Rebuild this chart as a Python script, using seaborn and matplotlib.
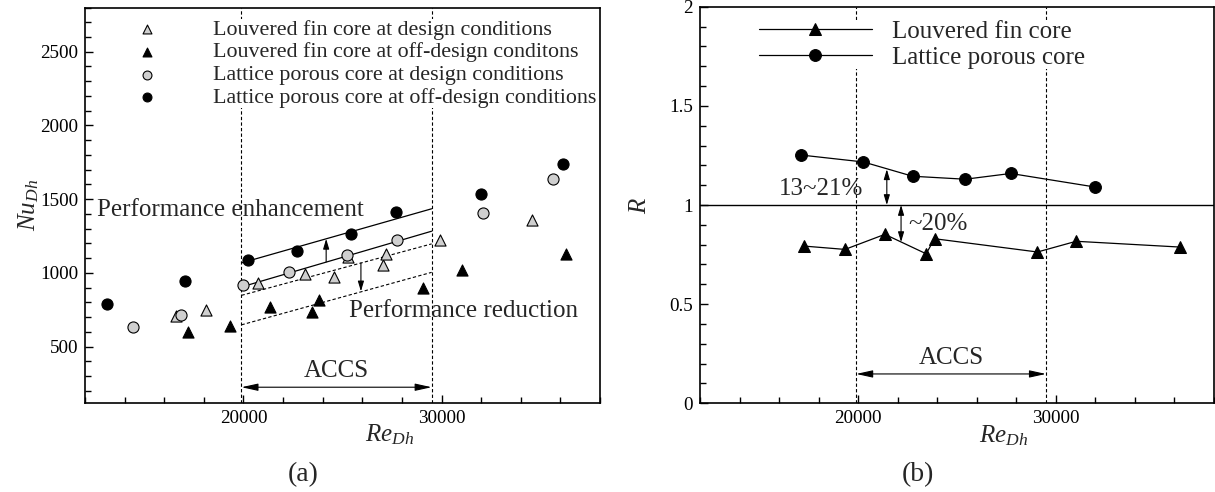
import numpy as np
import pandas as pd
import matplotlib
matplotlib.use('Agg')
import matplotlib.pyplot as plt
import seaborn as sns
from matplotlib.ticker import MultipleLocator, FuncFormatter

# ---- (a) Nu_Dh vs Re_Dh ----
re_lv_design = [16590, 18130, 20730, 23100, 24590, 25300, 27040, 27220, 29920, 34570]
nu_lv_design = [710, 750, 929, 995, 970, 1109, 1052, 1129, 1222, 1358]
re_lv_off = [17220, 19330, 21340, 23440, 23830, 29070, 31020, 36270]
nu_lv_off = [599, 642, 769, 735, 818, 898, 1018, 1129]
re_lp_design = [14440, 16840, 19960, 22290, 25250, 27760, 32110, 35650]
nu_lp_design = [633, 716, 916, 1007, 1124, 1220, 1408, 1634]
re_lp_off = [13120, 17060, 20230, 22700, 25430, 27700, 31970, 36150]
nu_lp_off = [792, 948, 1085, 1149, 1262, 1414, 1536, 1742]

labels_a = ['Louvered fin core at design conditions',
            'Louvered fin core at off-design conditons',
            'Lattice porous core at design conditions',
            'Lattice porous core at off-design conditions']

# ACCS range and trend lines
accs = [19900, 29500]
enh_hi = [1068, 1435]
enh_lo = [905, 1283]
red_hi = [848, 1197]
red_lo = [648, 1004]

# ---- (b) R vs Re_Dh ----
re_r_lv = [17245, 19333, 21351, 23441, 23862, 29070, 31027, 36258]
r_lv = [0.793, 0.776, 0.852, 0.754, 0.830, 0.763, 0.817, 0.788]
re_r_lp = [17108, 20268, 22755, 25419, 27718, 31962]
r_lp = [1.252, 1.217, 1.145, 1.130, 1.159, 1.091]
labels_b = ['Louvered fin core', 'Lattice porous core']

sns.set_theme(style='ticks')
plt.rcParams['font.family'] = ['Liberation Serif', 'DejaVu Serif']
plt.rcParams['mathtext.fontset'] = 'custom'
plt.rcParams['mathtext.rm'] = 'Liberation Serif'
plt.rcParams['mathtext.it'] = 'Liberation Serif:italic'
plt.rcParams['axes.edgecolor'] = 'black'

W, H = 1215, 492
fig = plt.figure(figsize=(W / 100, H / 100), dpi=100)
ax1 = fig.add_axes([85 / W, 89.3 / H, 515 / W, 395.2 / H])
ax2 = fig.add_axes([700 / W, 88.7 / H, 514 / W, 396.6 / H])

gray = '#cfcfcf'
TXT = 18


def style_axes(ax):
    for s in ax.spines.values():
        s.set_linewidth(1.2)
        s.set_color('black')
    ax.tick_params(which='both', direction='in', top=False, right=False,
                   colors='black', width=1, labelsize=13.8, pad=5)
    ax.tick_params(which='major', length=6)
    ax.tick_params(which='minor', length=4)


def arrow(ax, x0, y0, x1, y1, style):
    ax.annotate('', xy=(x1, y1), xytext=(x0, y0),
                arrowprops=dict(arrowstyle=style, color='black', lw=0.8,
                                mutation_scale=10, shrinkA=0, shrinkB=0))


# ---------------- panel (a) ----------------
series = [(re_lv_design, nu_lv_design, '^', gray),
          (re_lv_off, nu_lv_off, '^', 'black'),
          (re_lp_design, nu_lp_design, 'o', gray),
          (re_lp_off, nu_lp_off, 'o', 'black')]
for (x, y, m, c), lab in zip(series, labels_a):
    sns.scatterplot(x=x, y=y, marker=m, color=c, edgecolor='black',
                    linewidth=0.8, s=64, label=lab, ax=ax1, zorder=3)

for xv in accs:
    ax1.axvline(xv, color='black', lw=0.8, ls=(0, (3, 2)), zorder=1)
ax1.plot(accs, enh_hi, color='black', lw=0.9)
ax1.plot(accs, enh_lo, color='black', lw=0.9)
ax1.plot(accs, red_hi, color='black', lw=0.8, ls=(0, (3, 2)))
ax1.plot(accs, red_lo, color='black', lw=0.8, ls=(0, (3, 2)))

arrow(ax1, 24175, 1075, 24175, 1231, '-|>,head_length=0.6,head_width=0.18')
arrow(ax1, 25930, 1068, 25930, 875, '-|>,head_length=0.6,head_width=0.18')
arrow(ax1, accs[0], 225, accs[1], 225, '<|-|>,head_length=1.0,head_width=0.22')
ax1.text(np.mean(accs), 332, 'ACCS', fontsize=TXT, ha='center', va='center')
ax1.text(12620, 1429, 'Performance enhancement', fontsize=TXT, ha='left', va='center')
ax1.text(25340, 739, 'Performance reduction', fontsize=TXT, ha='left', va='center')

ax1.set_xlim(12000, 38000)
ax1.set_ylim(120, 2800)
ax1.xaxis.set_major_locator(MultipleLocator(10000))
ax1.xaxis.set_minor_locator(MultipleLocator(2000))
ax1.yaxis.set_major_locator(MultipleLocator(500))
ax1.yaxis.set_minor_locator(MultipleLocator(100))
ax1.xaxis.set_major_formatter(FuncFormatter(lambda v, p: f'{v:.0f}'))
ax1.yaxis.set_major_formatter(FuncFormatter(lambda v, p: f'{v:.0f}'))
style_axes(ax1)
ax1.set_xlabel(r'$Re_{Dh}$', fontsize=18)
ax1.set_ylabel(r'$Nu_{Dh}$', fontsize=18)
ax1.xaxis.set_label_coords(0.591, -0.05)
ax1.yaxis.set_label_coords(-0.085, 0.5)

leg1 = ax1.legend(loc='upper left', bbox_to_anchor=(0.078, 0.970), fontsize=15.8,
                  frameon=True, facecolor='white', edgecolor='none', framealpha=1,
                  borderpad=0, borderaxespad=0, labelspacing=0.11, markerscale=0.8,
                  handlelength=2.0, handletextpad=2.0, fancybox=False)
leg1.set_zorder(5)

# ---------------- panel (b) ----------------
for xv in accs:
    ax2.axvline(xv, color='black', lw=0.8, ls=(0, (3, 2)), zorder=1)
ax2.axhline(1.0, color='black', lw=1.0, zorder=1)
sns.lineplot(x=re_r_lv, y=r_lv, marker='^', markersize=9, color='black',
             markeredgecolor='black', lw=0.9, label=labels_b[0], ax=ax2,
             estimator=None, sort=False, zorder=3)
sns.lineplot(x=re_r_lp, y=r_lp, marker='o', markersize=8.5, color='black',
             markeredgecolor='black', lw=0.9, label=labels_b[1], ax=ax2,
             estimator=None, sort=False, zorder=3)

arrow(ax2, 21450, 1.18, 21450, 1.0, '<|-|>,head_length=0.6,head_width=0.18')
arrow(ax2, 22170, 1.0, 22170, 0.813, '<|-|>,head_length=0.6,head_width=0.18')
ax2.text(20250, 1.079, '13~21%', fontsize=TXT, ha='right', va='center')
ax2.text(22550, 0.902, '~20%', fontsize=TXT, ha='left', va='center')
arrow(ax2, accs[0], 0.148, accs[1], 0.148, '<|-|>,head_length=1.0,head_width=0.22')
ax2.text(np.mean(accs), 0.229, 'ACCS', fontsize=TXT, ha='center', va='center')

ax2.set_xlim(12000, 38000)
ax2.set_ylim(0, 2)
ax2.xaxis.set_major_locator(MultipleLocator(10000))
ax2.xaxis.set_minor_locator(MultipleLocator(2000))
ax2.yaxis.set_major_locator(MultipleLocator(0.5))
ax2.yaxis.set_minor_locator(MultipleLocator(0.1))
ax2.xaxis.set_major_formatter(FuncFormatter(lambda v, p: f'{v:.0f}'))
ax2.yaxis.set_major_formatter(FuncFormatter(lambda v, p: f'{v:g}'))
style_axes(ax2)
ax2.set_xlabel(r'$Re_{Dh}$', fontsize=18)
ax2.set_ylabel(r'$R$', fontsize=18)
ax2.xaxis.set_label_coords(0.591, -0.05)
ax2.yaxis.set_label_coords(-0.096, 0.5)

leg2 = ax2.legend(loc='upper left', bbox_to_anchor=(0.115, 0.966), fontsize=18,
                  frameon=True, facecolor='white', edgecolor='none', framealpha=1,
                  borderpad=0, borderaxespad=0, labelspacing=0.16,
                  handlelength=4.5, handletextpad=0.8, fancybox=False)
leg2.set_zorder(5)

fig.text(303 / W, 1 - 475 / H, '(a)', fontsize=20, ha='center', va='center')
fig.text(918 / W, 1 - 475 / H, '(b)', fontsize=20, ha='center', va='center')

fig.savefig('out.png', dpi=100)
